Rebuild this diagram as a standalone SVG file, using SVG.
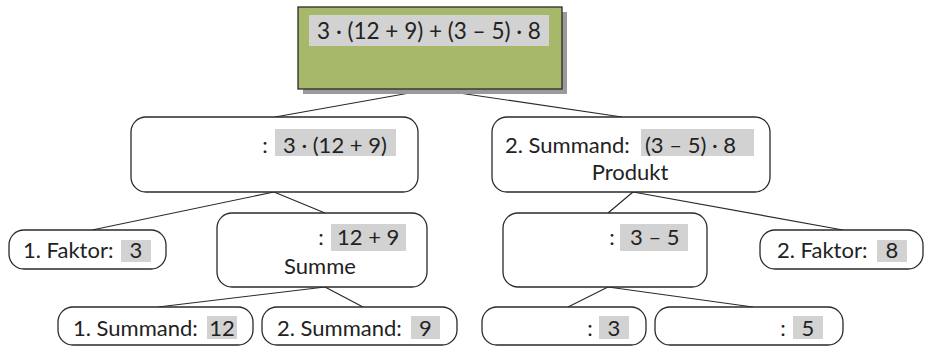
<svg xmlns="http://www.w3.org/2000/svg" width="925" height="346" viewBox="0 0 925 346">
<style>
.box{fill:#fff;stroke:#2a2a2a;stroke-width:1.3}
.hl{fill:#d2d2d2}
text{font-family:Lato,"Open Sans","Liberation Sans",sans-serif;font-size:22px;fill:#222}
.c{text-anchor:middle}
.big{font-size:22.5px}
#connectors line{stroke:#2a2a2a;stroke-width:1.2}
</style>
<rect width="925" height="346" fill="#fff"/>
<g id="connectors">
<line x1="432" y1="89" x2="275" y2="117"/>
<line x1="432" y1="89" x2="622" y2="117"/>
<line x1="274" y1="192" x2="92" y2="230"/>
<line x1="274" y1="192" x2="325" y2="213"/>
<line x1="633" y1="192" x2="608" y2="213"/>
<line x1="633" y1="192" x2="843" y2="230"/>
<line x1="325" y1="287" x2="158" y2="307"/>
<line x1="325" y1="287" x2="363" y2="307"/>
<line x1="608" y1="287" x2="568" y2="307"/>
<line x1="608" y1="287" x2="753" y2="307"/>
</g>
<g id="root">
<rect x="303" y="12" width="264" height="82" fill="#9a9a9a"/>
<rect x="298" y="7" width="264" height="82" fill="#a8b86b" stroke="#2a2a2a" stroke-width="1.3"/>
<rect class="hl" x="309" y="15" width="240" height="31"/>
<text class="big" x="429" y="39" text-anchor="middle">3 · (12 + 9) + (3 – 5) · 8</text>
</g>
<g id="summand1">
<rect class="box" x="131" y="117" width="287" height="75" rx="15"/>
<rect class="hl" x="275" y="129" width="121" height="27"/>
<text class="c" x="265" y="153">:</text>
<text x="283" y="153">3 · (12 + 9)</text>
</g>
<g id="summand2">
<rect class="box" x="492" y="117" width="278" height="75" rx="15"/>
<rect class="hl" x="641" y="129" width="113" height="27"/>
<text x="505" y="153">2. Summand:</text>
<text x="645" y="153">(3 – 5) · 8</text>
<text class="c" x="630" y="180">Produkt</text>
</g>
<g id="faktor1">
<rect class="box" x="9" y="230" width="157" height="39" rx="15"/>
<rect class="hl" x="121" y="240" width="30" height="22"/>
<text x="23" y="258">1. Faktor:</text>
<text class="c" x="136" y="258">3</text>
</g>
<g id="summe">
<rect class="box" x="217" y="213" width="210" height="74" rx="15"/>
<rect class="hl" x="331" y="224" width="75" height="27"/>
<text class="c" x="321" y="245">:</text>
<text x="337" y="245">12 + 9</text>
<text class="c" x="320" y="274">Summe</text>
</g>
<g id="differenz">
<rect class="box" x="503" y="213" width="204" height="74" rx="15"/>
<rect class="hl" x="620" y="224" width="68" height="27"/>
<text class="c" x="612" y="245">:</text>
<text x="630" y="245">3 – 5</text>
</g>
<g id="faktor2">
<rect class="box" x="760" y="230" width="163" height="39" rx="15"/>
<rect class="hl" x="877" y="240" width="30" height="22"/>
<text x="777" y="258">2. Faktor:</text>
<text class="c" x="892" y="258">8</text>
</g>
<g id="summandA">
<rect class="box" x="58" y="307" width="195" height="38" rx="15"/>
<rect class="hl" x="207" y="316" width="30" height="23"/>
<text x="73" y="336">1. Summand:</text>
<text class="c" x="222" y="336">12</text>
</g>
<g id="summandB">
<rect class="box" x="262" y="307" width="195" height="38" rx="15"/>
<rect class="hl" x="411" y="316" width="29" height="23"/>
<text x="277" y="336">2. Summand:</text>
<text class="c" x="425.5" y="336">9</text>
</g>
<g id="minuend">
<rect class="box" x="482" y="307" width="164" height="38" rx="15"/>
<rect class="hl" x="599" y="316" width="30" height="23"/>
<text class="c" x="590" y="336">:</text>
<text class="c" x="614" y="336">3</text>
</g>
<g id="subtrahend">
<rect class="box" x="655" y="307" width="188" height="38" rx="15"/>
<rect class="hl" x="793" y="316" width="30" height="23"/>
<text class="c" x="783" y="336">:</text>
<text class="c" x="808" y="336">5</text>
</g>
</svg>
